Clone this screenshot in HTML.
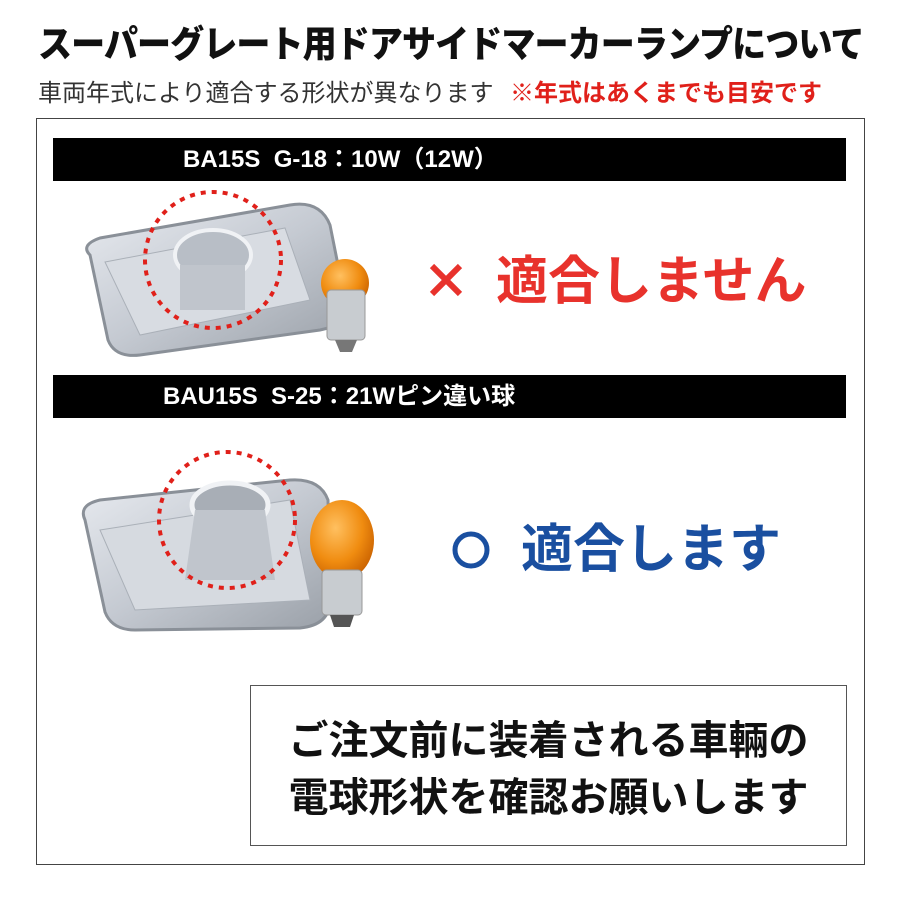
<!DOCTYPE html>
<html><head><meta charset="utf-8"><style>
body{margin:0;width:900px;height:900px;background:#fff;position:relative;overflow:hidden;font-family:"Liberation Sans","Noto Sans CJK JP",sans-serif}
.a{position:absolute;white-space:nowrap}
.bar{position:absolute;left:53px;width:793px;height:43px;background:#000;color:#fff;font-weight:bold;font-size:24px;line-height:43px}
</style></head><body>
<div class="a" style="left:38px;top:20px;font-size:37px;font-weight:900;color:#111;letter-spacing:-1px;line-height:50px;transform:scaleX(0.92);transform-origin:0 0">スーパーグレート用ドアサイドマーカーランプについて</div>
<div class="a" style="left:38px;top:78px;font-size:24px;color:#333;line-height:32px">車両年式により適合する形状が異なります</div>
<div class="a" style="left:510px;top:78px;font-size:24px;color:#e0201a;font-weight:bold;line-height:32px">※年式はあくまでも目安です</div>
<div class="a" style="left:36px;top:118px;width:827px;height:745px;border:1px solid #444"></div>
<div class="bar" style="top:138px"><span style="margin-left:130px">BA15S&nbsp; G-18：10W（12W）</span></div>
<div class="bar" style="top:375px"><span style="margin-left:110px">BAU15S&nbsp; S-25：21Wピン違い球</span></div>
<svg class="a" style="left:0;top:0" width="900" height="900">
<defs>
<linearGradient id="g" x1="0" y1="0" x2="1" y2="1"><stop offset="0" stop-color="#e8ebf0"/><stop offset="0.5" stop-color="#c5cad2"/><stop offset="1" stop-color="#9aa0a8"/></linearGradient>
<radialGradient id="o" cx="0.4" cy="0.35" r="0.7"><stop offset="0" stop-color="#ffc060"/><stop offset="0.6" stop-color="#f08c10"/><stop offset="1" stop-color="#c86000"/></radialGradient>
</defs>
<path d="M90 255 Q80 245 100 238 L290 205 Q320 200 330 225 L345 300 Q348 325 320 330 L140 355 Q115 358 108 340 Z" fill="url(#g)" stroke="#8a9098" stroke-width="3"/>
<path d="M105 262 L285 228 L310 300 L140 335 Z" fill="#d8dce2" stroke="#aab0b8"/>
<ellipse cx="213" cy="255" rx="38" ry="25" fill="#b8bec6" stroke="#f0f2f5" stroke-width="4"/>
<rect x="180" y="265" width="65" height="45" fill="#c0c5cc"/>
<circle cx="213" cy="260" r="68" fill="none" stroke="#e0201a" stroke-width="4" stroke-dasharray="5 6"/>
<circle cx="345" cy="283" r="24" fill="url(#o)"/>
<rect x="327" y="290" width="38" height="50" rx="4" fill="#c8ccd0" stroke="#999"/>
<path d="M335 340 L357 340 L352 352 L340 352 Z" fill="#777"/>
<path d="M85 520 Q78 505 100 500 L290 480 Q320 478 328 500 L330 600 Q330 625 300 628 L135 630 Q112 630 105 612 Z" fill="url(#g)" stroke="#8a9098" stroke-width="3"/>
<path d="M100 530 L290 500 L310 600 L135 610 Z" fill="#d6dae0" stroke="#aab0b8"/>
<ellipse cx="230" cy="505" rx="38" ry="22" fill="#a8aeb6" stroke="#f0f2f5" stroke-width="5"/>
<path d="M195 510 L265 510 L275 580 L185 580 Z" fill="#c0c5cc"/>
<circle cx="227" cy="520" r="68" fill="none" stroke="#e0201a" stroke-width="4" stroke-dasharray="5 6"/>
<ellipse cx="342" cy="540" rx="32" ry="40" fill="url(#o)"/>
<rect x="322" y="570" width="40" height="45" rx="4" fill="#c8ccd0" stroke="#999"/>
<path d="M330 615 L354 615 L350 627 L334 627 Z" fill="#555"/>
<path d="M432 266 L460 294 M460 266 L432 294" stroke="#e8322c" stroke-width="6"/>
<circle cx="471" cy="550" r="16" fill="none" stroke="#1a4fa0" stroke-width="5"/>
</svg>
<div class="a" style="left:496px;top:250px;font-size:52px;font-weight:bold;color:#e8322c;line-height:64px">適合しません</div>
<div class="a" style="left:521px;top:518px;font-size:52px;font-weight:bold;color:#1a4fa0;line-height:64px">適合します</div>
<div class="a" style="left:250px;top:685px;width:595px;height:159px;border:1px solid #555"></div>
<div class="a" style="left:250px;top:713px;width:597px;text-align:center;font-size:40px;font-weight:bold;color:#111;line-height:57px">ご注文前に装着される車輛の<br>電球形状を確認お願いします</div>
</body></html>
